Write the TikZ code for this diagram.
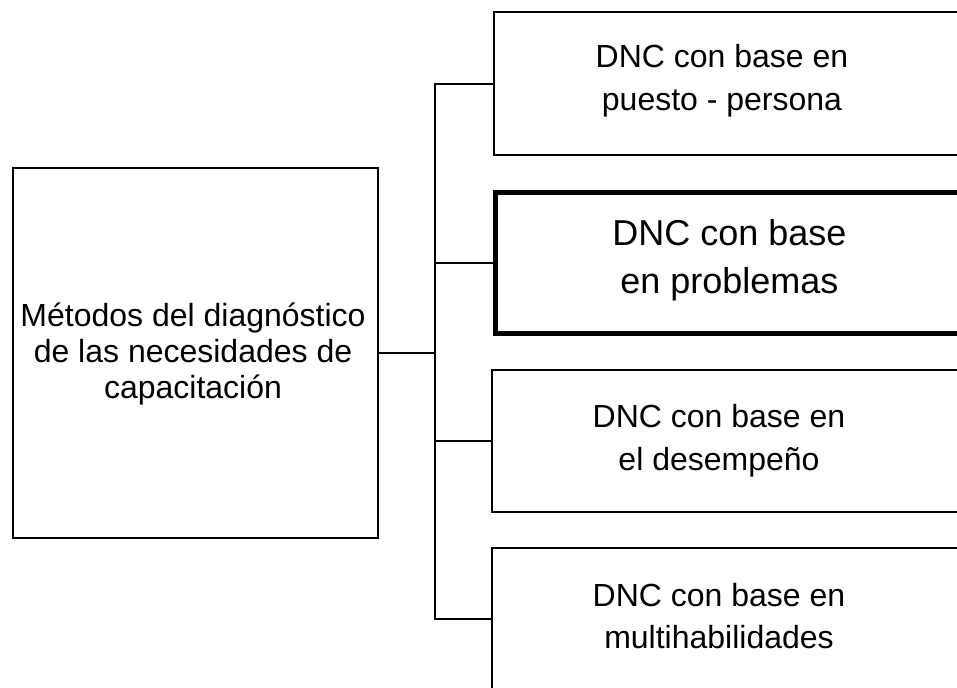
\documentclass[tikz,border=0pt]{standalone}
\usepackage{fontspec}
\setmainfont{Liberation Sans}
\begin{document}
\begin{tikzpicture}[x=0.75pt,y=-0.75pt,
  boxshape/.style={draw=black, line width=1.5pt, rectangle, inner sep=0pt, anchor=north west, fill=white},
  thickbox/.style={boxshape, line width=3.75pt},
  conn/.style={draw=black, line width=1.5pt},
  txt/.style={align=center, inner sep=0pt, font=\fontsize{24}{32}\selectfont},
  bigtxt/.style={align=center, inner sep=0pt, font=\fontsize{27}{36}\selectfont},
  lefttxt/.style={align=center, inner sep=0pt, font=\fontsize{24}{27}\selectfont}]
\useasboundingbox (0,0) rectangle (957,687);
\clip (0,0) rectangle (957,687);
\fill[white] (0,0) rectangle (957,687);
% boxes
\node[boxshape, minimum width=273.75pt, minimum height=277.5pt] (main) at (11.5,167) {};
\node[boxshape, minimum width=361.5pt, minimum height=107.25pt] (b1) at (493,11) {};
\node[thickbox, minimum width=361.5pt, minimum height=105.4pt] (b2) at (493,190) {};
\node[boxshape, minimum width=363pt, minimum height=106.5pt] (b3) at (491,369) {};
\node[boxshape, minimum width=363pt, minimum height=106.5pt] (b4) at (491,547) {};
% texts
\node[lefttxt] (tmain) at (193,354) {Métodos del diagnóstico\\de las necesidades de\\capacitación};
\node[txt] (t1) at (722,81) {DNC con base en\\puesto - persona};
\node[bigtxt] (t2) at (729.5,260) {DNC con base\\en problemas};
\node[txt] (t3) at (719,441) {DNC con base en\\el desempeño};
\node[txt] (t4) at (719,616) {DNC con base en\\multihabilidades};
% connectors
\coordinate (trunk) at (435,0);
\draw[conn] (b1.west) -- (b1.west -| trunk) -- (b4.west -| trunk) -- (b4.west);
\draw[conn] (b2.west -| trunk) -- (b2.west);
\draw[conn] (b3.west -| trunk) -- (b3.west);
\draw[conn] (main.east) -- (main.east -| trunk);
\end{tikzpicture}
\end{document}
